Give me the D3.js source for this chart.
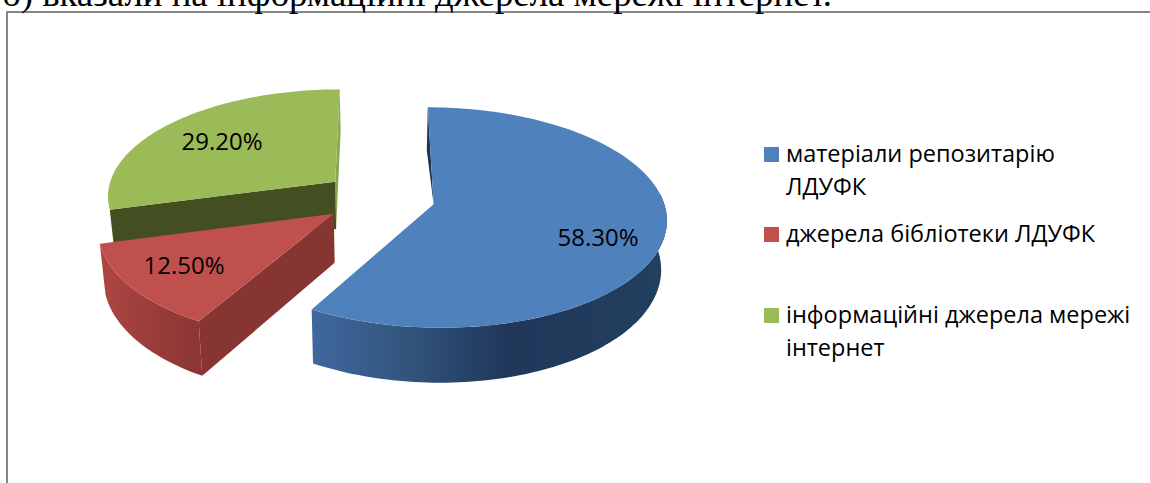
<!DOCTYPE html>
<html><head><meta charset="utf-8">
<style>html,body{margin:0;padding:0;background:#fff;overflow:hidden}svg{display:block}</style>
<script src="https://cdn.jsdelivr.net/npm/d3@7/dist/d3.min.js"></script>
</head><body><svg id="c" width="1150" height="483"></svg>
<script>
const heading = "б) вказали на інформаційні джерела мережі інтернет.";
const categories = ["матеріали репозитарію ЛДУФК", "джерела бібліотеки ЛДУФК", "інформаційні джерела мережі інтернет"];
const legendLines = [["матеріали репозитарію","ЛДУФК"],["джерела бібліотеки ЛДУФК"],["інформаційні джерела мережі","інтернет"]];
const values = [58.3, 12.5, 29.2];
const topColors = ["#4f81bd","#c0504d","#9bbb59"];
const edgeColors = ["#1f3655","#863533","#434f21"];

const W=1150,H=483;
const svg=d3.select("#c");
const cx=379,cy=197.5,R=229,Rt=107,k=0.119,explode=0.245,depth=48,shrink=0.98;
const font="'Open Sans',sans-serif";

function proj(X,Y,low){
  const s=1/(1+k*Y);
  const x=cx+R*X*s, y=cy-Rt*Y*s;
  return low?[cx+(x-cx)*shrink,y+depth*s]:[x,y];
}
const pie=d3.pie().sort(null).value(d=>d)(values);
const slices=pie.map((p,i)=>{
  const mid=(p.startAngle+p.endAngle)/2;
  const ox=explode*Math.sin(mid), oy=explode*Math.cos(mid);
  const pt=(a,low)=>proj(ox+Math.sin(a),oy+Math.cos(a),low);
  const apex=low=>proj(ox,oy,low);
  return {i,a0:p.startAngle,a1:p.endAngle,pt,apex};
});
const line=d3.line();
const defs=svg.append("defs");
const gr=defs.append("linearGradient").attr("id","rimR").attr("x1",0).attr("x2",1).attr("y1",0).attr("y2",0);
[[0,"#ad4643"],[0.5,"#9a3d3a"],[1,"#8a3634"]].forEach(d=>gr.append("stop").attr("offset",d[0]).attr("stop-color",d[1]));
const gb=defs.append("linearGradient").attr("id","rimB").attr("x1",0).attr("x2",1).attr("y1",0).attr("y2",0);
[[0,"#3f689e"],[0.25,"#33567f"],[0.55,"#20375a"],[1,"#22405f"]].forEach(d=>gb.append("stop").attr("offset",d[0]).attr("stop-color",d[1]));
function arcPts(s,a,b,low){const n=Math.max(8,Math.ceil(Math.abs(b-a)*40));return d3.range(n+1).map(j=>s.pt(a+(b-a)*j/n,low));}
function area(pts,fill){return svg.append("path").attr("d",line(pts)+"Z").attr("fill",fill);}

// frame
svg.append("rect").attr("x",7).attr("y",12).attr("width",W+20).attr("height",H+20).attr("fill","#fff").attr("stroke","#868686").attr("stroke-width",2);
// heading, cut off by the top of the picture
svg.append("text").attr("x",2).attr("y",6).attr("font-family","'Liberation Serif',serif").attr("font-size",36.8).attr("fill","#000").text(heading);

const [blue,red,green]=slices;
// green slice
area([green.pt(green.a1,false),green.apex(false),green.apex(true),green.pt(green.a1,true)],"#8aa84f");
area([green.pt(green.a0,false),green.apex(false),green.apex(true),green.pt(green.a0,true)],edgeColors[2]);
area([green.apex(false),...arcPts(green,green.a0,green.a1,false)],topColors[2]);
// blue sliver on the back edge
area([blue.pt(blue.a0,false),blue.apex(false),blue.pt(blue.a0,true)],edgeColors[0]);
// red slice
area([red.apex(false),red.pt(red.a0,false),red.pt(red.a0,true),red.apex(true)],edgeColors[1]);
area([...arcPts(red,red.a0,red.a1,false),...arcPts(red,red.a1,red.a0,true)],"url(#rimR)");
area([red.apex(false),...arcPts(red,red.a0,red.a1,false)],topColors[1]);
// blue slice
const frontA=Math.PI*0.47;
area([...arcPts(blue,frontA,blue.a1,false),...arcPts(blue,blue.a1,frontA,true)],"url(#rimB)");
area([blue.apex(false),...arcPts(blue,blue.a0,blue.a1,false)],topColors[0]);

// value labels
const labelPos=[[598,246],[184,274],[222,150]];
values.forEach((v,i)=>svg.append("text").attr("x",labelPos[i][0]).attr("y",labelPos[i][1]).attr("text-anchor","middle")
  .attr("font-family",font).attr("font-size",24).attr("fill","#000").text(v.toFixed(2)+"%"));

// legend
const legendY=[147,227,308], lh=33;
legendLines.forEach((ls,i)=>{
  svg.append("rect").attr("x",764).attr("y",legendY[i]).attr("width",15).attr("height",15).attr("fill",topColors[i]);
  ls.forEach((t,j)=>svg.append("text").attr("x",786).attr("y",legendY[i]+15+j*lh).attr("font-family",font).attr("font-size",23.5).attr("fill","#000").text(t));
});
</script></body></html>
